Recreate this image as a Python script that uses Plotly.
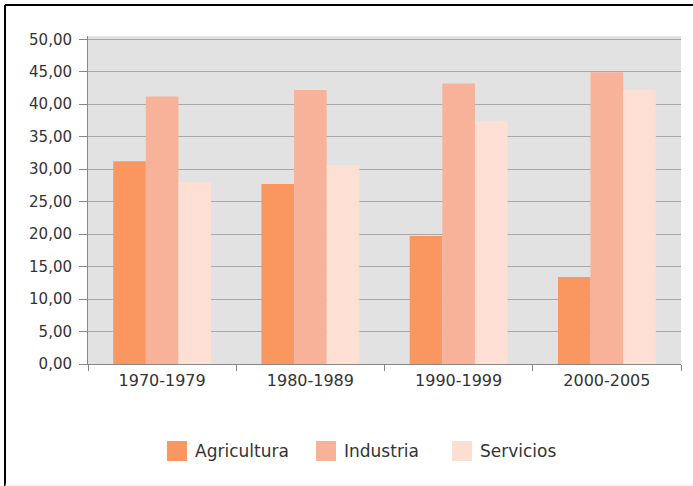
import plotly.graph_objects as go

categories = ["1970-1979", "1980-1989", "1990-1999", "2000-2005"]
agricultura = [31.2, 27.7, 19.7, 13.4]
industria = [41.2, 42.2, 43.2, 44.9]
servicios = [28.0, 30.6, 37.4, 42.2]
y_ticks = [0, 5, 10, 15, 20, 25, 30, 35, 40, 45, 50]
y_tick_labels = ["0,00", "5,00", "10,00", "15,00", "20,00", "25,00", "30,00",
                 "35,00", "40,00", "45,00", "50,00"]

series_names = ["Agricultura", "Industria", "Servicios"]
series_values = [agricultura, industria, servicios]
series_colors = ["#FA9660", "#F8B29A", "#FDDFD4"]

FONT = "DejaVu Sans"
TXT = "#333333"

fig = go.Figure()
for name, vals, col in zip(series_names, series_values, series_colors):
    fig.add_trace(go.Bar(x=categories, y=vals, name=name, showlegend=False,
                         marker=dict(color=col, line=dict(width=0))))

W, H = 693, 486
ml, mr, mt, mb = 88, 12, 36, 122
fig.update_layout(
    width=W, height=H,
    margin=dict(l=ml, r=mr, t=mt, b=mb, pad=0),
    paper_bgcolor="white",
    plot_bgcolor="#E2E2E2",
    font=dict(family=FONT, size=15, color=TXT),
    barmode="group", bargap=0.34, bargroupgap=0,
    xaxis=dict(showline=True, linecolor="#888888", linewidth=1,
               ticks="outside", tickson="boundaries", ticklen=6, tickcolor="#888888",
               ticklabelstandoff=2,
               tickfont=dict(family=FONT, size=16, color=TXT), showgrid=False),
    yaxis=dict(range=[0, 50.5], tickvals=y_ticks, ticktext=y_tick_labels,
               showline=True, linecolor="#888888", linewidth=1,
               ticks="outside", ticklen=8, tickcolor="#888888",
               ticklabelstandoff=4,
               gridcolor="#A8A8A8", gridwidth=1, zeroline=False,
               tickfont=dict(family=FONT, size=15, color=TXT)),
)

pw = W - ml - mr
ph = H - mt - mb
def px_x(x):
    return (x - ml) / pw
def px_y(y):
    return (H - mb - y) / ph

# Legend (drawn as layout decorations, large square swatches like the reference)
legend_square_left = [167, 316, 452]
legend_cy = 451
sq = 20
for name, col, x0 in zip(series_names, series_colors, legend_square_left):
    fig.add_shape(type="rect", xref="paper", yref="paper",
                  x0=px_x(x0), x1=px_x(x0 + sq),
                  y0=px_y(legend_cy + sq / 2), y1=px_y(legend_cy - sq / 2),
                  line=dict(width=0), fillcolor=col)
    fig.add_annotation(xref="paper", yref="paper", x=px_x(x0 + sq + 6), y=px_y(legend_cy),
                       xanchor="left", yanchor="middle", showarrow=False, text=name,
                       font=dict(family=FONT, size=17, color=TXT))

# Frame border (left and top edges visible, like the cropped reference)
fig.add_shape(type="line", xref="paper", yref="paper",
              x0=px_x(5), x1=px_x(693), y0=px_y(5), y1=px_y(5),
              line=dict(color="black", width=2))
fig.add_shape(type="line", xref="paper", yref="paper",
              x0=px_x(5), x1=px_x(5), y0=px_y(5), y1=px_y(486),
              line=dict(color="black", width=2))
fig.add_shape(type="line", xref="paper", yref="paper",
              x0=px_x(5), x1=px_x(693), y0=px_y(485), y1=px_y(485),
              line=dict(color="#EEEEEE", width=1))

fig.write_html("out.html", config={"displayModeBar": False},
               post_script="document.body.style.margin='0';document.body.style.padding='0';")
